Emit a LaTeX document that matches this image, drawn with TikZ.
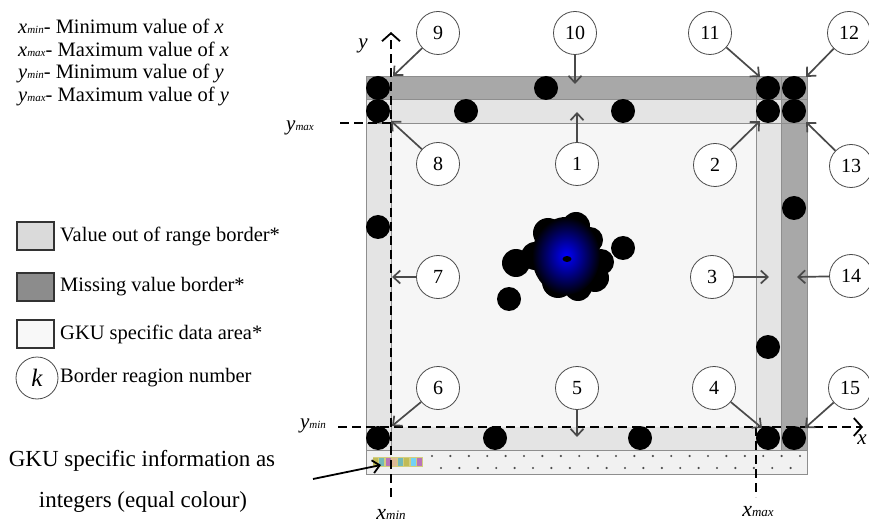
\documentclass[tikz,border=0pt]{standalone}
\usepackage{fontspec}
\setmainfont{Liberation Serif}
\usetikzlibrary{arrows.meta,shapes.geometric}
\definecolor{darkstrip}{HTML}{A8A8A8}
\definecolor{lightstrip}{HTML}{E4E4E4}
\definecolor{mainarea}{HTML}{F6F6F6}
\definecolor{edgec}{HTML}{8E8E8E}
\definecolor{ptrc}{HTML}{4A4A4A}
\definecolor{dotstrip}{HTML}{F1F1F1}
\definecolor{legdark}{HTML}{8C8C8C}
\definecolor{leglight}{HTML}{DADADA}
\definecolor{legwhite}{HTML}{F8F8F8}
\newcommand{\sbs}[1]{{\fontsize{11}{11}\selectfont\textit{#1}}}
\begin{document}
\begin{tikzpicture}[x=1pt,y=-1pt,
  lab/.style={circle,draw=ptrc,line width=0.8pt,fill=white,minimum size=43pt,inner sep=0pt,font=\fontsize{20}{20}\selectfont},
  ptr/.style={draw=ptrc,line width=1.7pt,-{Straight Barb[length=7pt,width=13pt]}},
  axis/.style={draw=black,line width=1.8pt,dash pattern=on 9pt off 5pt},
  axtip/.style={-{Straight Barb[length=8pt,width=18pt,line width=1.8pt]}},
  bdot/.style={fill=black},
  legbox/.style={draw=black!80,line width=1.8pt,minimum width=37pt,minimum height=28pt,inner sep=0pt},
  txt/.style={font=\fontsize{20.5}{22}\selectfont},
  bigtxt/.style={font=\fontsize{23}{26}\selectfont}
]
\useasboundingbox (0,0) rectangle (869,526);
% ---------- grid fills ----------
\fill[darkstrip] (366,76) rectangle (807,99);
\fill[lightstrip] (366,99) rectangle (781,123);
\fill[darkstrip] (781,99) rectangle (807,450);
\fill[lightstrip] (756,123) rectangle (781,450);
\fill[lightstrip] (366,123) rectangle (391,450);
\fill[lightstrip] (391,427) rectangle (756,450);
\fill[mainarea] (391,123) rectangle (756,427);
\fill[dotstrip] (366,450) rectangle (807,474);
% ---------- grid lines ----------
\draw[edgec,line width=0.8pt] (366,76) rectangle (807,474);
\draw[edgec,line width=0.8pt] (366,99) -- (807,99);
\draw[edgec,line width=0.8pt] (366,123) -- (807,123);
\draw[edgec,line width=0.8pt] (366,450) -- (807,450);
\draw[edgec,line width=0.8pt] (756,76) -- (756,450);
\draw[edgec,line width=0.8pt] (781,76) -- (781,450);
\draw[edgec,line width=0.8pt] (391,99) -- (391,450);
% ---------- dotted strip ----------
\foreach \i in {0,...,20} \fill[black!70] ({432+\i*18.4},456) circle[radius=1.2pt];
\foreach \i in {0,...,19} \fill[black!70] ({441+\i*18.4},468) circle[radius=1.2pt];
\fill[olive!40] (373,457) rectangle (423,467);
\foreach \c [count=\i] in {olive,teal,violet,brown,teal,olive,cyan,violet}
  \fill[\c!55] ({373+(\i-1)*6.25},458) rectangle ++(5,8);
% ---------- data dots ----------
\foreach \p in {(378,88),(546,88),(768,88),(794,88),
                (378,111),(466,111),(623,111),(768,111),(794,111),
                (378,227),(794,208),(768,347),
                (378,438),(495,438),(640,438),(768,438),(794,438),
                (623,248),(509,299)}
  \fill[bdot] \p circle[radius=12pt];
% ---------- blob ----------
\fill[black] (516,263) circle[radius=14pt];
\fill[black] (535,256) circle[radius=14pt];
\fill[black] (548,233) circle[radius=15pt];
\fill[black] (576,226) circle[radius=14pt];
\fill[black] (590,240) circle[radius=13pt];
\fill[black] (601,262) circle[radius=13pt];
\fill[black] (595,278) circle[radius=14pt];
\fill[black] (558,282) circle[radius=16pt];
\fill[black] (578,287) circle[radius=14pt];
\fill[black] (567,258) circle[radius=28pt];
\shade[inner color=blue,outer color=black] (566,256) ellipse[x radius=34pt,y radius=39pt];
\fill[black] (567,259) ellipse[x radius=4.5pt,y radius=3pt];
% ---------- axes ----------
\coordinate (ytop) at (391,32);
\coordinate (ybot) at (391,497);
\coordinate (xl) at (338,427);
\coordinate (xr) at (863,427);
\coordinate (xmt) at (756,427);
\coordinate (xmb) at (756,497);
\coordinate (yml) at (340,123);
\coordinate (ymr) at (391,123);
\draw[axis,axtip] (ybot) -- (ytop);
\draw[axis,axtip] (xl) -- (xr);
\draw[axis] (xmt) -- (xmb);
\draw[axis,line width=1.5pt] (yml) -- (ymr);
% ---------- region labels ----------
\node[lab] (c9) at (438,33) {9};
\node[lab] (c10) at (575,33) {10};
\node[lab] (c11) at (710,33) {11};
\node[lab] (c12) at (849,33) {12};
\node[lab] (c8) at (438,164) {8};
\node[lab] (c1) at (577,164) {1};
\node[lab] (c2) at (715,165) {2};
\node[lab] (c13) at (851,166) {13};
\node[lab] (c7) at (438,277) {7};
\node[lab] (c3) at (712,277) {3};
\node[lab] (c14) at (851,276) {14};
\node[lab] (c6) at (438,388) {6};
\node[lab] (c5) at (577,388) {5};
\node[lab] (c4) at (714,388) {4};
\node[lab] (c15) at (850,388) {15};
\coordinate (t9) at (393,76);
\coordinate (t10) at (575,84);
\coordinate (t11) at (760,77);
\coordinate (t12) at (806,77);
\coordinate (t8) at (391,121);
\coordinate (t1) at (577,112);
\coordinate (t2) at (760,121);
\coordinate (t13) at (806,122);
\coordinate (t7) at (392,277);
\coordinate (t3) at (769,277);
\coordinate (t14) at (797,277);
\coordinate (t6) at (392,426);
\coordinate (t5) at (577,437);
\coordinate (t4) at (762,428);
\coordinate (t15) at (805,428);
\foreach \n in {1,...,15} \draw[ptr] (c\n) -- (t\n);
% ---------- axis labels ----------
\node[font=\fontsize{21}{21}\selectfont] (ly) at (363,46) {\textit{y}};
\node[font=\fontsize{21}{21}\selectfont] (lx) at (862,440) {\textit{x}};
\node[font=\fontsize{21}{21}\selectfont] (lymax) at (300,128) {\textit{y}\sbs{max}};
\node[font=\fontsize{21}{21}\selectfont] (lymin) at (313,426) {\textit{y}\sbs{min}};
\node[font=\fontsize{22}{22}\selectfont,inner sep=0pt] (lxmin) at (391,514) {\textit{x}{\fontsize{13}{13}\selectfont\textit{min}}};
\node[font=\fontsize{22}{22}\selectfont,inner sep=0pt] (lxmax) at (758,512) {\textit{x}{\fontsize{13}{13}\selectfont\textit{max}}};
% ---------- top-left key ----------
\node[txt,anchor=base west,inner sep=0pt] (k1) at (18,34) {\textit{x}\sbs{min}- Minimum value of \textit{x}};
\node[txt,anchor=base west,inner sep=0pt] (k2) at (18,56.5) {\textit{x}\sbs{max}- Maximum value of \textit{x}};
\node[txt,anchor=base west,inner sep=0pt] (k3) at (18,79) {\textit{y}\sbs{min}- Minimum value of \textit{y}};
\node[txt,anchor=base west,inner sep=0pt] (k4) at (18,101.5) {\textit{y}\sbs{max}- Maximum value of \textit{y}};
% ---------- legend ----------
\node[legbox,fill=leglight] (b1) at (35.5,236) {};
\node[legbox,fill=legdark] (b2) at (35.5,287) {};
\node[legbox,fill=legwhite] (b3) at (35.5,334) {};
\node[circle,draw=ptrc,line width=0.8pt,minimum size=42pt,inner sep=0pt,font=\fontsize{25}{25}\selectfont] (bk) at (37,378) {\textit{k}};
\node[txt,anchor=west,inner sep=0pt] (bt1) at (60,236) {Value out of range border*};
\node[txt,anchor=west,inner sep=0pt] (bt2) at (60,287) {Missing value border*};
\node[txt,anchor=west,inner sep=0pt] (bt3) at (60,334) {GKU specific data area*};
\node[txt,anchor=west,inner sep=0pt] (bt4) at (60,378) {Border reagion number};
% ---------- bottom-left note ----------
\node[bigtxt,inner sep=0pt] (g1) at (142,461) {GKU specific information as};
\node[bigtxt,inner sep=0pt] (g2) at (143,502) {integers (equal colour)};
\coordinate (ga) at (313,479);
\coordinate (gb) at (381,465);
\draw[line width=1.8pt,-{Straight Barb[length=7pt,width=13pt]}] (ga) -- (gb);
\end{tikzpicture}
\end{document}
